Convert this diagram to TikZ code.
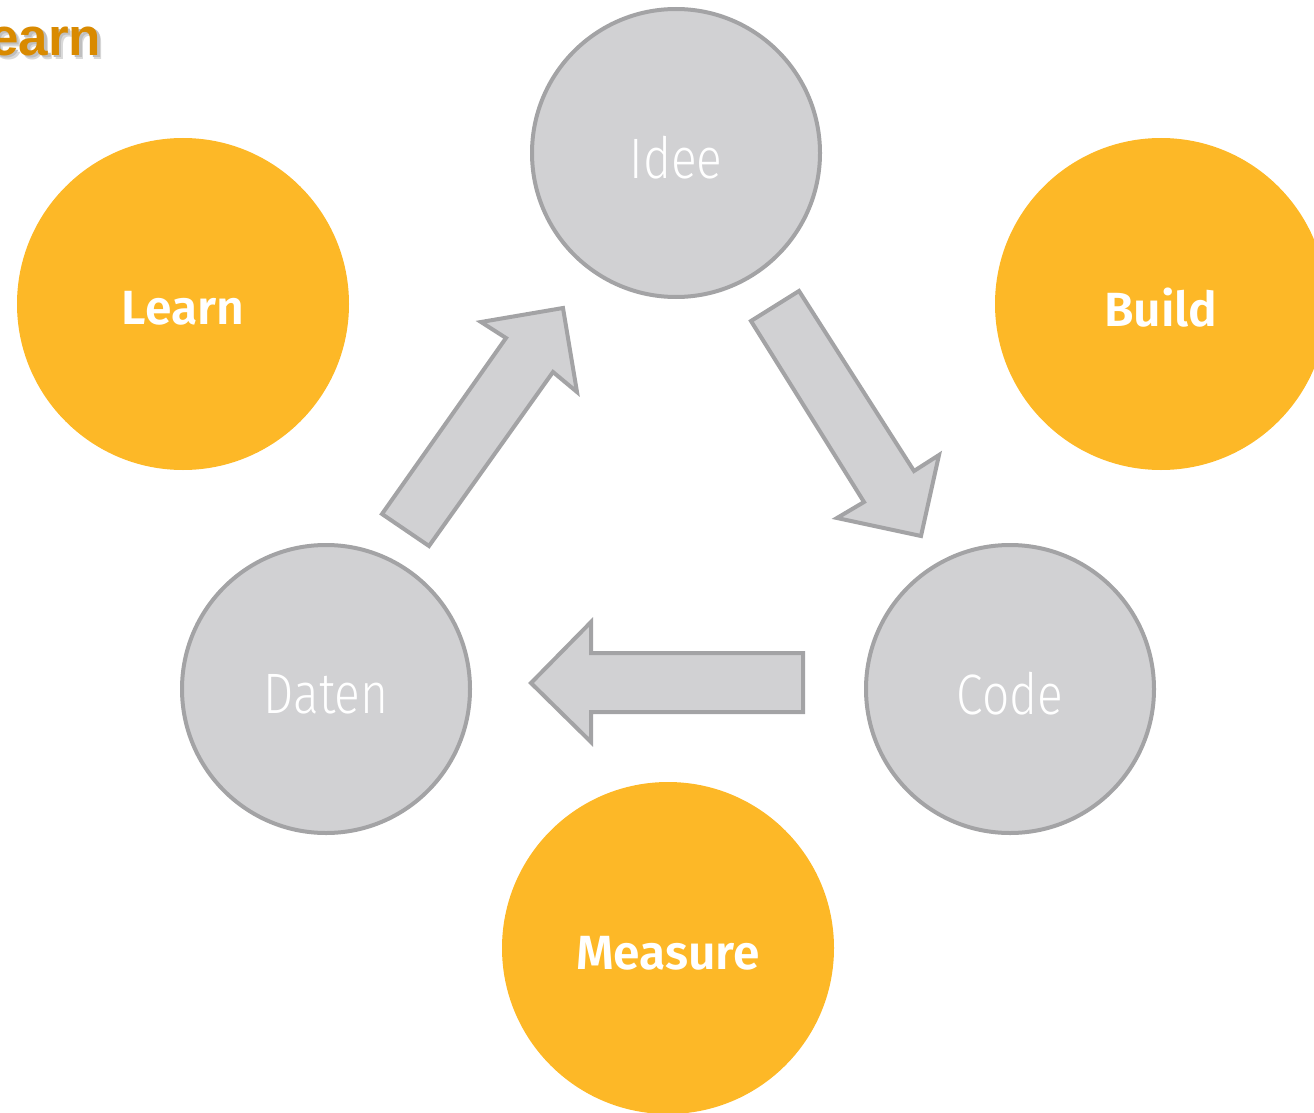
\documentclass[tikz,border=0pt]{standalone}
\usepackage{fontspec}
\setmainfont{Liberation Sans}
\newfontfamily\thinf{Fira Sans}[UprightFont={* Light}, FakeStretch=0.84]
\newfontfamily\boldf{Fira Sans}[UprightFont={* SemiBold}]
\definecolor{cfill}{HTML}{D1D1D3}
\definecolor{cline}{HTML}{A3A3A5}
\definecolor{orng}{HTML}{FDB827}
\definecolor{dorng}{HTML}{D98A00}
\tikzset{
  gcirc/.style={circle, draw=cline, line width=4pt, fill=cfill, minimum size=288pt, inner sep=0pt},
  ocirc/.style={circle, fill=orng, minimum size=332pt, inner sep=0pt},
  glabel/.style={text=white, font=\thinf\fontsize{57}{62}\selectfont},
  olabel/.style={text=white, font=\boldf\fontsize{48}{54}\selectfont},
  bigarrow/.style={draw=cline, line width=4pt, fill=cfill, line join=miter},
  titlefont/.style={anchor=east, inner sep=0pt, font=\bfseries\fontsize{53}{58}\selectfont},
}
\begin{document}
\begin{tikzpicture}[x=1pt,y=-1pt]
\useasboundingbox (0,0) rectangle (1314,1113);
% orange circles
\node[ocirc] (learn) at (183,304) {};
\node[ocirc] (build) at (1161,304) {};
\node[ocirc] (measure) at (668,948) {};
\node[olabel] (learnt) at (183,308) {Learn};
\node[olabel] (buildt) at (1161,308) {Build};
\node[olabel] (measuret) at (668,953) {Measure};
% grey circles
\node[gcirc] (idee) at (676,153) {};
\node[gcirc] (daten) at (326,689) {};
\node[gcirc] (code) at (1010,689) {};
\node[glabel] (ideet) at (676,158) {Idee};
\node[glabel] (datent) at (326,694) {Daten};
\node[glabel] (codet) at (1010,694) {Code};
% arrows
\draw[bigarrow] (382,514) -- (506,338) -- (481,322) -- (563,308) -- (577,392) -- (553,372) -- (429,546) -- cycle;
\draw[bigarrow] (751,321) -- (799,291) -- (914,471) -- (939,455) -- (921,536) -- (837,518) -- (864,502) -- cycle;
\draw[bigarrow] (803,653) -- (591,653) -- (591,622) -- (531,683) -- (591,742) -- (591,712) -- (803,712) -- cycle;
% title
\node[titlefont, text=black!15] (titleshadow2) at (105.5,41.5) {Learn};
\node[titlefont, text=black!25] (titleshadow) at (104,40) {Learn};
\node[titlefont, text=dorng] (title) at (101.5,37.5) {Learn};
\end{tikzpicture}
\end{document}
